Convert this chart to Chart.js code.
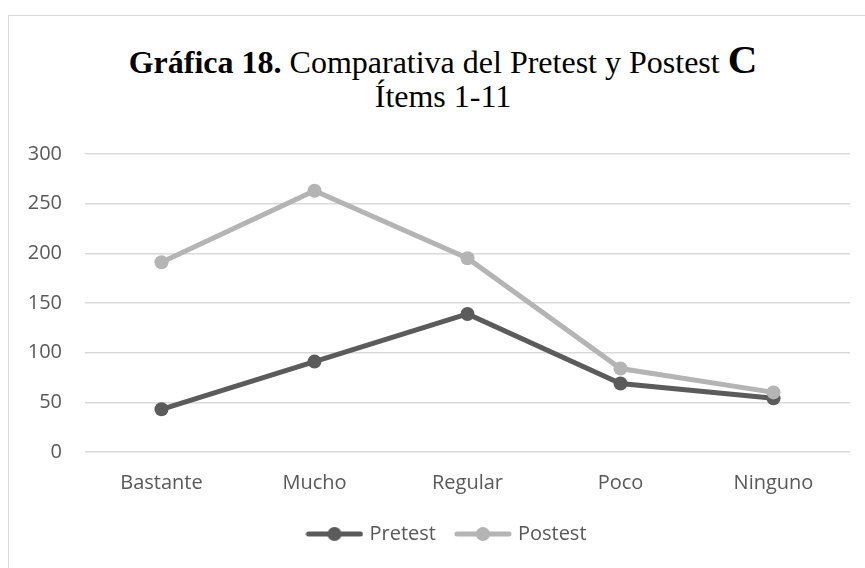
<!DOCTYPE html>
<html>
<head>
<meta charset="utf-8">
<script src="https://cdn.jsdelivr.net/npm/chart.js@4.4.0/dist/chart.umd.min.js"></script>
<style>
  html, body { margin: 0; padding: 0; background: #fff; }
  #wrap { position: relative; width: 865px; height: 568px; overflow: hidden; }
  #frame { position: absolute; left: 8px; top: 15px; width: 900px; height: 600px;
           border-left: 1.5px solid #d9d9d9; border-top: 1.5px solid #d9d9d9; }
  .title { position: absolute; left: 6px; width: 874px; text-align: center;
           font-family: "Liberation Serif", "Times New Roman", serif; color: #000;
           white-space: nowrap; }
  #t1 { top: 37px; font-size: 32px; line-height: 44px; }
  #t2 { top: 76px; font-size: 32px; line-height: 40px; }
  #t1 b.big { font-size: 41px; }
  canvas { position: absolute; left: 0; top: 0; }
</style>
</head>
<body>
<div id="wrap">
  <div id="frame"></div>
  <div class="title" id="t1"><b>Gráfica 18.</b> Comparativa del Pretest y Postest <b class="big">C</b></div>
  <div class="title" id="t2">Ítems 1-11</div>
  <canvas id="myChart" width="865" height="568"></canvas>
</div>
<script>
// data
var categories = ["Bastante", "Mucho", "Regular", "Poco", "Ninguno"];
var pretest = [43, 91, 139, 69, 54];
var postest = [191, 263, 195, 84, 60];
var yTicks = [0, 50, 100, 150, 200, 250, 300];

var darkGray = "#5b5b5b";
var lightGray = "#b4b4b4";
var textGray = "#595959";

// little line-with-dot marker for the legend, like excel
function legendMarker(color) {
  var c = document.createElement("canvas");
  c.width = 58;
  c.height = 16;
  var g = c.getContext("2d");
  g.strokeStyle = color;
  g.lineWidth = 5;
  g.lineCap = "round";
  g.beginPath();
  g.moveTo(3, 8);
  g.lineTo(55, 8);
  g.stroke();
  g.fillStyle = color;
  g.beginPath();
  g.arc(29, 8, 7, 0, Math.PI * 2);
  g.fill();
  return c;
}

var markers = [legendMarker(darkGray), legendMarker(lightGray)];

// excel centres the legend under the plot, not the whole canvas
var shiftLegend = {
  id: "shiftLegend",
  afterUpdate: function (chart) {
    var lg = chart.legend;
    if (!lg) return;
    lg.left += 23;
    lg.right += 23;
    lg.adjustHitBoxes();
  }
};

var ctx = document.getElementById("myChart").getContext("2d");
var myChart = new Chart(ctx, {
  type: "line",
  data: {
    labels: categories,
    datasets: [{
      label: "Pretest",
      data: pretest,
      borderColor: darkGray,
      backgroundColor: darkGray,
      borderWidth: 5,
      pointRadius: 7,
      pointBorderWidth: 0,
      pointBackgroundColor: darkGray,
      tension: 0,
      order: 1
    }, {
      label: "Postest",
      data: postest,
      borderColor: lightGray,
      backgroundColor: lightGray,
      borderWidth: 5,
      pointRadius: 7,
      pointBorderWidth: 0,
      pointBackgroundColor: lightGray,
      tension: 0,
      order: 0
    }]
  },
  plugins: [shiftLegend],
  options: {
    responsive: false,
    animation: false,
    layout: { padding: { top: 154, right: 15, left: 0, bottom: 14 } },
    plugins: {
      title: { display: false },
      tooltip: { enabled: false },
      legend: {
        position: "bottom",
        labels: {
          usePointStyle: true,
          pointStyleWidth: 50,
          padding: 22,
          color: textGray,
          font: { family: "'Open Sans', sans-serif", size: 20 },
          generateLabels: function (chart) {
            return chart.data.datasets.map(function (ds, i) {
              return {
                text: ds.label,
                datasetIndex: i,
                pointStyle: markers[i],
                fillStyle: ds.borderColor,
                strokeStyle: ds.borderColor,
                fontColor: textGray,
                lineWidth: 0,
                hidden: false
              };
            });
          }
        }
      }
    },
    scales: {
      x: {
        offset: true,
        grid: { display: false },
        border: { display: false },
        ticks: {
          color: textGray,
          padding: 11,
          font: { family: "'Open Sans', sans-serif", size: 20 }
        },
        afterFit: function (scale) { scale.height = 50; }
      },
      y: {
        min: 0,
        max: 300,
        grid: { color: "#d9d9d9", lineWidth: 1.5, drawTicks: false },
        border: { display: false },
        afterBuildTicks: function (scale) {
          scale.ticks = yTicks.map(function (v) { return { value: v }; });
        },
        ticks: {
          color: textGray,
          padding: 23,
          font: { family: "'Open Sans', sans-serif", size: 20 }
        },
        afterFit: function (scale) { scale.width = 85; }
      }
    }
  }
});
</script>
</body>
</html>
